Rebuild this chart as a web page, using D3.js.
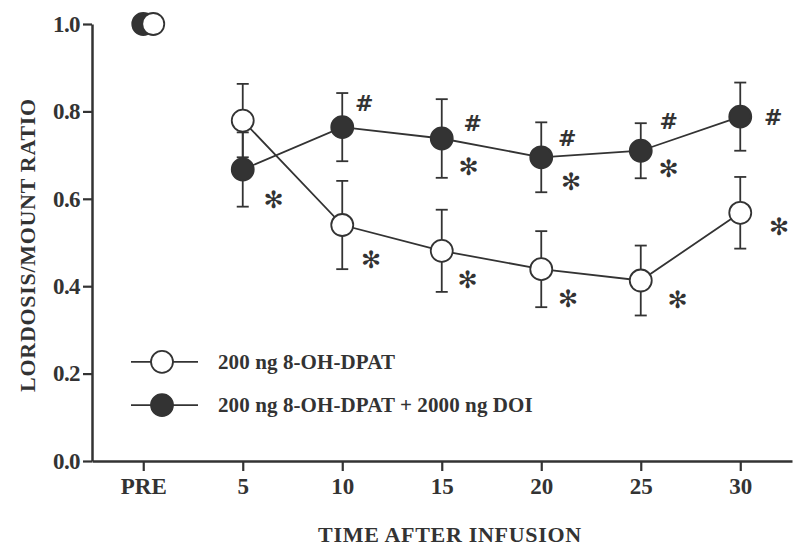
<!DOCTYPE html>
<html>
<head>
<meta charset="utf-8">
<script src="https://cdn.jsdelivr.net/npm/d3@7"></script>
<style>
  html, body { margin: 0; padding: 0; background: #fff; }
  svg { display: block; }
</style>
</head>
<body>
<svg id="chart" width="800" height="550"></svg>
<script>
// ---- data ----
const categories = ["PRE", "5", "10", "15", "20", "25", "30"];
const yTicks = [0.0, 0.2, 0.4, 0.6, 0.8, 1.0];
const dpatMean = [1.0, 0.779, 0.540, 0.481, 0.439, 0.413, 0.568];
const dpatSem  = [0.0, 0.084, 0.101, 0.094, 0.087, 0.080, 0.082];
const doiMean  = [1.0, 0.667, 0.764, 0.738, 0.695, 0.710, 0.788];
const doiSem   = [0.0, 0.085, 0.078, 0.090, 0.080, 0.063, 0.078];
const legendLabels = ["200 ng 8-OH-DPAT", "200 ng 8-OH-DPAT + 2000 ng DOI"];
const legendRows = [0.227, 0.128];
// significance marks (category index, ratio value)
const hashMarks = [
  {x: 2.22, y: 0.817}, {x: 3.31, y: 0.773}, {x: 4.26, y: 0.739},
  {x: 5.28, y: 0.776}, {x: 6.33, y: 0.787}
];
const starMarks = [
  {x: 1.31, y: 0.597}, {x: 3.27, y: 0.673}, {x: 4.30, y: 0.638}, {x: 5.28, y: 0.668},
  {x: 2.29, y: 0.460}, {x: 3.26, y: 0.414}, {x: 4.27, y: 0.371}, {x: 5.37, y: 0.368},
  {x: 6.39, y: 0.535}
];

// ---- drawing ----
const ink = "#333";
const serif = "'Liberation Serif', 'DejaVu Serif', serif";
const svg = d3.select("#chart");

const x = d3.scaleLinear().domain([-0.515, 6.52]).range([92, 792]);
const y = d3.scaleLinear().domain([0, 1]).range([461, 24]);

// axes
const yAxis = d3.axisLeft(y).tickValues(yTicks).tickFormat(d3.format(".1f"))
  .tickSize(9).tickSizeOuter(0).tickPadding(3);
const xAxis = d3.axisBottom(x).tickValues(d3.range(categories.length))
  .tickFormat(i => categories[i]).tickSize(10).tickSizeOuter(0).tickPadding(7);

const gy = svg.append("g").attr("transform", `translate(${x.range()[0]},0)`).call(yAxis);
const gx = svg.append("g").attr("transform", `translate(0,${y.range()[0]})`).call(xAxis);
[gx, gy].forEach(g => {
  g.select(".domain").attr("stroke", ink).attr("stroke-width", 2.5);
  g.selectAll(".tick line").attr("stroke", ink).attr("stroke-width", 2.2);
  g.selectAll(".tick text").attr("fill", ink).attr("font-family", serif)
    .attr("font-weight", "bold").attr("font-size", 23);
});
gy.selectAll(".tick text").attr("letter-spacing", -0.6);

// axis titles
svg.append("text")
  .attr("transform", `translate(35,245) rotate(-90)`)
  .attr("text-anchor", "middle")
  .attr("font-family", serif).attr("font-weight", "bold").attr("font-size", 22)
  .attr("letter-spacing", 0.7).attr("fill", ink)
  .text("LORDOSIS/MOUNT RATIO");
svg.append("text")
  .attr("x", 450).attr("y", 541.5)
  .attr("text-anchor", "middle")
  .attr("font-family", serif).attr("font-weight", "bold").attr("font-size", 22)
  .attr("letter-spacing", 0.7).attr("fill", ink)
  .text("TIME AFTER INFUSION");

const series = [
  {mean: doiMean, sem: doiSem, fill: ink, preShift: 0},
  {mean: dpatMean, sem: dpatSem, fill: "#fff", preShift: 10}
];
const r = 11;
const cap = 6;

// lines (post-infusion only)
const line = d3.line().x(d => x(d.i)).y(d => y(d.v));
series.forEach(s => {
  const pts = s.mean.map((v, i) => ({i, v})).filter(d => d.i > 0);
  svg.append("path").datum(pts).attr("d", line)
    .attr("fill", "none").attr("stroke", ink).attr("stroke-width", 1.8);
});

// error bars
series.forEach(s => {
  const pts = s.mean.map((v, i) => ({i, v, e: s.sem[i]})).filter(d => d.e > 0);
  const g = svg.append("g").attr("stroke", ink).attr("stroke-width", 1.8);
  pts.forEach(d => {
    const cx = x(d.i);
    const top = y(d.v + d.e), bot = y(d.v - d.e);
    g.append("line").attr("x1", cx).attr("x2", cx).attr("y1", top).attr("y2", bot);
    g.append("line").attr("x1", cx - cap).attr("x2", cx + cap).attr("y1", top).attr("y2", top);
    g.append("line").attr("x1", cx - cap).attr("x2", cx + cap).attr("y1", bot).attr("y2", bot);
  });
});

// points
series.forEach(s => {
  svg.append("g").selectAll("circle")
    .data(s.mean.map((v, i) => ({i, v})))
    .join("circle")
    .attr("cx", d => x(d.i) + (d.i === 0 ? s.preShift : 0))
    .attr("cy", d => y(d.v))
    .attr("r", r)
    .attr("fill", s.fill).attr("stroke", ink).attr("stroke-width", 1.8);
});

// significance marks
svg.append("g").selectAll("text").data(hashMarks).join("text")
  .attr("x", d => x(d.x)).attr("y", d => y(d.y))
  .attr("text-anchor", "middle").attr("dominant-baseline", "central")
  .attr("font-family", "'DejaVu Sans', sans-serif").attr("font-weight", "bold")
  .attr("font-size", 22).attr("fill", ink).text("#");
svg.append("g").selectAll("text").data(starMarks).join("text")
  .attr("x", d => x(d.x)).attr("y", d => y(d.y))
  .attr("text-anchor", "middle").attr("dominant-baseline", "central")
  .attr("font-family", "'DejaVu Sans', sans-serif").attr("font-weight", "bold")
  .attr("font-size", 24).attr("fill", ink).text("\u273B");

// legend
const fills = ["#fff", ink];
legendLabels.forEach((lab, k) => {
  const ly = y(legendRows[k]);
  svg.append("line").attr("x1", 131).attr("x2", 198).attr("y1", ly).attr("y2", ly)
    .attr("stroke", ink).attr("stroke-width", 1.8);
  svg.append("circle").attr("cx", 162).attr("cy", ly).attr("r", r)
    .attr("fill", fills[k]).attr("stroke", ink).attr("stroke-width", 1.8);
  svg.append("text").attr("x", 218).attr("y", ly)
    .attr("dominant-baseline", "central")
    .attr("font-family", serif).attr("font-weight", "bold").attr("font-size", 21)
    .attr("letter-spacing", 0.1).attr("fill", ink)
    .text(lab);
});
</script>
</body>
</html>
